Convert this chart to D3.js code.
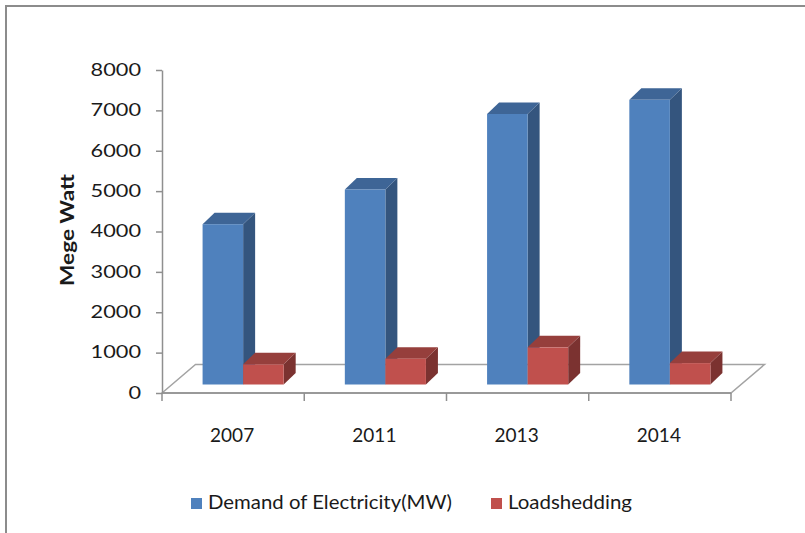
<!DOCTYPE html>
<html lang="en">
<head>
<meta charset="UTF-8">
<title>Demand of electricity and loadshedding</title>
<script src="https://d3js.org/d3.v7.min.js"></script>
<style>
  body { margin: 0; background: #fff; }
  .chart text { font-family: Lato, "Open Sans", sans-serif; fill: #1a1a1a; }
  .axis--y path, .axis--y line { stroke: #8f8f8f; stroke-width: 1.5; }
  .axis--y text { font-size: 16.5px; }
</style>
</head>
<body>
<svg class="chart"></svg>
<script>
// data
const years = ['2007', '2011', '2013', '2014'];
const demand = [3970, 4830, 6700, 7050];
const loadshedding = [500, 640, 920, 530];
const yTicks = [0, 1000, 2000, 3000, 4000, 5000, 6000, 7000, 8000];
const seriesNames = ['Demand of Electricity(MW)', 'Loadshedding'];

const width = 805, height = 533;
const colors = [
  {front: '#4f81bd', top: '#3e6596', side: '#34557e'},
  {front: '#c0504d', top: '#963f3c', side: '#7b3230'}
];

// oblique "3d" offsets
const floorDepth = {dx: 33.5, dy: 28.5};
const barFront = {dx: 10, dy: 8.5};
const barDepth = {dx: 12, dy: 11.5};

const svg = d3.select('.chart')
  .attr('width', width)
  .attr('height', height);

// outer frame (cut at the right and bottom)
svg.append('path')
  .attr('d', 'M6,' + height + 'V6H' + width)
  .attr('fill', 'none')
  .attr('stroke', '#8c8c8c')
  .attr('stroke-width', 2);

const x = d3.scaleBand().domain(years).range([162, 731]);
const y = d3.scaleLinear().domain([0, 8000]).range([393, 70]);
const groupW = x.bandwidth() * 0.57;
const inner = d3.scaleBand().domain([0, 1]).range([0, groupW]);
const groupOff = (x.bandwidth() - groupW) / 2;

const y0 = y(0), x0 = x.range()[0], x1 = x.range()[1];

// floor
svg.append('path')
  .attr('d', 'M' + x0 + ',' + y0 + 'L' + (x0 + floorDepth.dx) + ',' + (y0 - floorDepth.dy) +
             'L' + (x1 + floorDepth.dx) + ',' + (y0 - floorDepth.dy) +
             'L' + x1 + ',' + y0 + 'Z')
  .attr('fill', 'none')
  .attr('stroke', '#a3a3a3')
  .attr('stroke-width', 1.5);

// category tick marks on the front edge
svg.append('g').selectAll('line')
  .data(years.map(d => x(d)).concat([x1]))
  .enter().append('line')
  .attr('x1', d => d).attr('x2', d => d)
  .attr('y1', y0).attr('y2', y0 + 8)
  .attr('stroke', '#8f8f8f').attr('stroke-width', 1.5);

svg.append('line')
  .attr('x1', x0).attr('x2', x1).attr('y1', y0).attr('y2', y0)
  .attr('stroke', '#8f8f8f').attr('stroke-width', 1.5);

// y axis
const yAxis = svg.append('g')
  .attr('class', 'axis axis--y')
  .attr('transform', 'translate(' + x0 + ',0)')
  .call(d3.axisLeft(y).tickValues(yTicks).tickFormat(d3.format('d'))
    .tickSize(6).tickSizeOuter(0).tickPadding(15));
yAxis.selectAll('text')
  .attr('textLength', d => String(d).length * 12.6)
  .attr('lengthAdjust', 'spacingAndGlyphs');

svg.append('text')
  .attr('transform', 'translate(74,230) rotate(-90)')
  .attr('text-anchor', 'middle')
  .attr('font-weight', 'bold')
  .attr('font-size', 19)
  .attr('textLength', 112)
  .attr('lengthAdjust', 'spacingAndGlyphs')
  .text('Mege Watt');

// x labels
svg.append('g').selectAll('text')
  .data(years).enter().append('text')
  .attr('x', d => x(d) + x.bandwidth() / 2 - 1)
  .attr('y', 441.5)
  .attr('text-anchor', 'middle')
  .attr('font-size', 19)
  .text(d => d);

// bars, left to right so right-hand fronts cover side faces
const bars = [];
years.forEach((yr, i) => {
  [demand[i], loadshedding[i]].forEach((v, s) => {
    bars.push({year: yr, s: s, value: v});
  });
});

const barW = inner.bandwidth();
const barG = svg.append('g').selectAll('g')
  .data(bars).enter().append('g');

function barLeft(d) { return x(d.year) + groupOff + inner(d.s) + barFront.dx; }
function barTop(d) { return y(d.value) - barFront.dy; }
const base = y0 - barFront.dy;

barG.append('path')
  .attr('fill', d => colors[d.s].side)
  .attr('d', d => {
    const l = barLeft(d) + barW, t = barTop(d);
    return 'M' + l + ',' + t + 'L' + (l + barDepth.dx) + ',' + (t - barDepth.dy) +
           'L' + (l + barDepth.dx) + ',' + (base - barDepth.dy) + 'L' + l + ',' + base + 'Z';
  });

barG.append('path')
  .attr('fill', d => colors[d.s].top)
  .attr('d', d => {
    const l = barLeft(d), t = barTop(d);
    return 'M' + l + ',' + t + 'L' + (l + barW) + ',' + t +
           'L' + (l + barW + barDepth.dx) + ',' + (t - barDepth.dy) +
           'L' + (l + barDepth.dx) + ',' + (t - barDepth.dy) + 'Z';
  });

barG.append('rect')
  .attr('fill', d => colors[d.s].front)
  .attr('x', barLeft)
  .attr('y', barTop)
  .attr('width', barW)
  .attr('height', d => base - barTop(d));

// legend
const legendX = [191, 491];
const legendLen = [244, 124];
const legend = svg.append('g').selectAll('g')
  .data(seriesNames).enter().append('g')
  .attr('transform', (d, i) => 'translate(' + legendX[i] + ',0)');
legend.append('rect')
  .attr('x', 0).attr('y', 498)
  .attr('width', 11).attr('height', 11)
  .attr('fill', (d, i) => colors[i].front);
legend.append('text')
  .attr('x', 17).attr('y', 509)
  .attr('font-size', 20)
  .attr('textLength', (d, i) => legendLen[i])
  .attr('lengthAdjust', 'spacingAndGlyphs')
  .text(d => d);
</script>
</body>
</html>
